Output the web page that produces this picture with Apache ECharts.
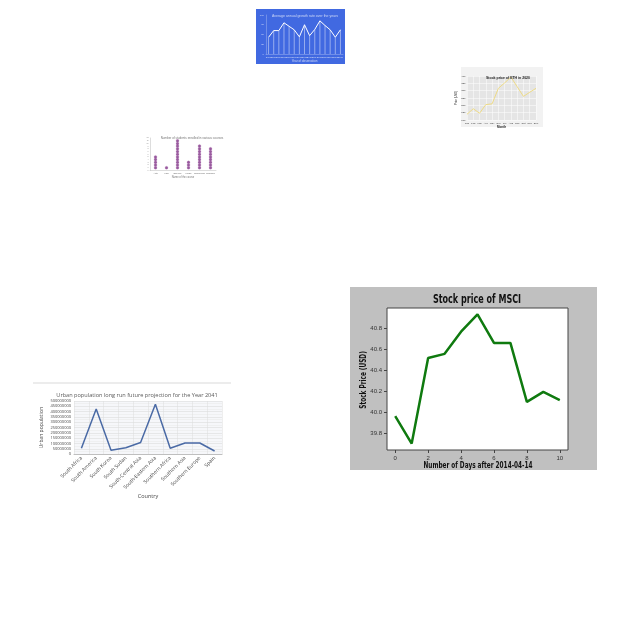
<!DOCTYPE html>
<html><head><meta charset="utf-8">
<script src="https://cdn.jsdelivr.net/npm/echarts@6/dist/echarts.min.js"></script>
<style>html,body{margin:0;padding:0;background:#fff}#c{width:640px;height:640px}</style>
</head><body><div id="c"></div>
<script>
// ---- Chart A (blue line) ----
const blueCats = ['2005','2006','2007','2008','2009','2010','2011','2012','2013','2014','2015','2016','2017','2018','2019'];
const blueVals = [43,60,60,80,71,62,44,75,47,63,85,73,62,43,62];
// ---- Chart B (ETH price) ----
const ethMonths = ['Jan','Feb','Mar','Apr','May','Jun','Jul','Aug','Sep','Oct','Nov','Dec'];
const ethVals = [139,177,146,205,210,316,353,393,327,261,289,316];
// ---- Chart C (dot chart) ----
const dotCats = ['Arts','Law','Science','Music','Commerce','Medicine'];
const dotCounts = [5,1,11,3,9,8];
// ---- Chart D (urban population) ----
const urbanCats = ['South Africa','South America','South Korea','South Sudan','South-Central Asia','South-Eastern Asia','Southern Africa','Southern Asia','Southern Europe','Spain'];
const urbanVals = [56000000,425000000,37000000,62000000,110000000,470000000,56000000,106000000,106000000,31000000];
// ---- Chart E (MSCI) ----
const msciDays = [0,1,2,3,4,5,6,7,8,9,10];
const msciPrice = [39.965,39.704,40.517,40.557,40.768,40.932,40.661,40.661,40.100,40.195,40.117];
const msciXTicks = [0,2,4,6,8,10];
const msciYTicks = [39.8,40.0,40.2,40.4,40.6,40.8];

const dotData = [];
dotCounts.forEach((n,i)=>{for(let k=1;k<=n;k++) dotData.push([i,k]);});

const chart = echarts.init(document.getElementById('c'), null, {renderer:'canvas'});
chart.setOption({
  animation:false,
  backgroundColor:'#fff',
  graphic:[
    {type:'rect', shape:{x:256,y:9,width:89,height:55}, style:{fill:'#4169e1'}, z:-10},
    {type:'rect', shape:{x:461,y:67,width:82,height:60}, style:{fill:'#f2f2f2'}, z:-10},
    {type:'rect', shape:{x:350,y:287,width:247,height:183}, style:{fill:'#c0c0c0'}, z:-10},
    {type:'line', shape:{x1:33,y1:383,x2:231,y2:383}, style:{stroke:'#d9d9d9',lineWidth:1}, z:-10},
    {type:'text', x:477, y:300, scaleX:0.7, z:10,
      style:{text:'Stock price of MSCI', font:'bold 11.5px "DejaVu Sans"', fill:'#111', align:'center', verticalAlign:'middle'}},
    {type:'text', x:478, y:465.5, scaleX:0.68, z:10,
      style:{text:'Number of Days after 2014-04-14', font:'bold 8.5px "DejaVu Sans"', fill:'#111', align:'center', verticalAlign:'middle'}},
    {type:'text', x:364, y:380, rotation:Math.PI/2, scaleX:0.68, z:10,
      style:{text:'Stock Price (USD)', font:'bold 8.5px "DejaVu Sans"', fill:'#111', align:'center', verticalAlign:'middle'}}
  ],
  title:[
    {text:'Average annual growth rate over the years', left:300, top:9.5, textAlign:'center',
      textStyle:{fontSize:3.5,color:'rgba(255,255,255,0.7)',fontWeight:'normal'}},
    {text:'Stock price of ETH in 2020', left:503, top:71, textAlign:'center',
      textStyle:{fontSize:3.5,color:'#222',fontWeight:'bold'}},
    {text:'Number of students enrolled in various courses', left:187, top:131.5, textAlign:'center',
      textStyle:{fontSize:3,color:'#777',fontWeight:'normal'}},
    {text:'Urban population long run future projection for the Year 2041', left:132, top:387, textAlign:'center',
      textStyle:{fontSize:5.6,color:'#595959',fontWeight:'normal',fontFamily:'Open Sans'}}
  ],
  grid:[
    {left:266, right:297, top:15, height:39, containLabel:false},
    {left:467, right:104, top:76, height:44, show:true, backgroundColor:'#e5e5e5', borderWidth:0},
    {left:150, right:424, top:138, height:32.4},
    {left:74, right:418, top:401, height:53.3, show:true, backgroundColor:'#f6f7fa', borderWidth:0},
    {left:387, right:72, top:308, height:142, show:true, backgroundColor:'#fff', borderColor:'#444', borderWidth:1}
  ],
  xAxis:[
    {gridIndex:0, type:'category', data:blueCats, boundaryGap:true,
      axisLine:{lineStyle:{color:'rgba(255,255,255,0.5)',width:0.5}}, axisTick:{show:false},
      axisLabel:{fontSize:2.5,color:'rgba(255,255,255,0.7)',margin:2,interval:0},
      name:'Year of observation', nameLocation:'middle', nameGap:6,
      nameTextStyle:{fontSize:3,color:'rgba(255,255,255,0.7)'}},
    {gridIndex:1, type:'category', data:ethMonths, boundaryGap:false,
      axisLine:{show:false}, axisTick:{show:false},
      splitLine:{show:true,lineStyle:{color:'#fff',width:0.5}},
      axisLabel:{fontSize:2.5,color:'#333',margin:1.5,interval:0},
      name:'Month', nameLocation:'middle', nameGap:5, nameTextStyle:{fontSize:3,color:'#222',fontWeight:'bold'}},
    {gridIndex:2, type:'category', data:dotCats, boundaryGap:true,
      axisLine:{lineStyle:{color:'#bbb',width:0.5}}, axisTick:{show:false},
      axisLabel:{fontSize:2.3,color:'#666',margin:1.5,interval:0},
      name:'Name of the course', nameLocation:'middle', nameGap:5,
      nameTextStyle:{fontSize:2.6,color:'#777'}},
    {gridIndex:3, type:'category', data:urbanCats, boundaryGap:true,
      axisLine:{lineStyle:{color:'#bfbfbf',width:1}}, axisTick:{show:false},
      splitLine:{show:true,lineStyle:{color:'#dcdcdc',width:0.5}},
      axisLabel:{fontSize:5,color:'#444',rotate:45,margin:3,interval:0,fontFamily:'Open Sans'},
      name:'Country', nameLocation:'middle', nameGap:37,
      nameTextStyle:{fontSize:5.5,color:'#444',fontFamily:'Open Sans'}},
    {gridIndex:4, type:'value', min:-0.5, max:10.5,
      axisLine:{show:false,onZero:false}, splitLine:{show:false},
      axisTick:{show:true,length:3,lineStyle:{color:'#444'},customValues:msciXTicks},
      axisLabel:{fontSize:6,color:'#333',margin:5,customValues:msciXTicks}}
  ],
  yAxis:[
    {gridIndex:0, type:'value', min:0, max:100, interval:25,
      axisLine:{show:true,lineStyle:{color:'rgba(255,255,255,0.5)',width:0.5}}, axisTick:{show:false},
      splitLine:{show:false}, axisLabel:{fontSize:2.5,color:'rgba(255,255,255,0.7)',margin:2},
      name:'Growth rate', nameLocation:'middle', nameGap:5, nameTextStyle:{fontSize:2.6,color:'rgba(255,255,255,0.7)'}},
    {gridIndex:1, type:'value', min:100, max:400, interval:50,
      axisLine:{show:false}, axisTick:{show:false},
      splitLine:{show:true,lineStyle:{color:'#fff',width:0.5}},
      axisLabel:{fontSize:2.5,color:'#333',margin:1.5},
      name:'Price (USD)', nameLocation:'middle', nameGap:5, nameTextStyle:{fontSize:2.6,color:'#222'}},
    {gridIndex:2, type:'value', min:0, max:12, interval:1,
      axisLine:{show:true,lineStyle:{color:'#bbb',width:0.5}}, axisTick:{show:false},
      splitLine:{show:false}, axisLabel:{fontSize:1.8,color:'#888',margin:1.5}},
    {gridIndex:3, type:'value', min:0, max:500000000, interval:50000000,
      axisLine:{show:false}, axisTick:{show:false},
      splitLine:{show:true,lineStyle:{color:'#d6d6d6',width:0.5}},
      minorTick:{show:false,splitNumber:2},
      minorSplitLine:{show:true,lineStyle:{color:'#e8e8e8',width:0.5}},
      axisLabel:{fontSize:4,color:'#444',margin:3,fontFamily:'Open Sans',formatter:v=>String(v)},
      name:'Urban population', nameLocation:'middle', nameGap:30,
      nameTextStyle:{fontSize:5,color:'#444',fontFamily:'Open Sans'}},
    {gridIndex:4, type:'value', min:39.643, max:40.993,
      axisLine:{show:false,onZero:false}, splitLine:{show:false},
      axisTick:{show:true,length:3,lineStyle:{color:'#444'},customValues:msciYTicks},
      axisLabel:{fontSize:6,color:'#333',margin:5,customValues:msciYTicks,formatter:v=>v.toFixed(1)}}
  ],
  series:[
    {type:'bar', xAxisIndex:0, yAxisIndex:0, data:blueVals, barWidth:0.5,
      itemStyle:{color:'rgba(255,255,255,0.45)'}, silent:true},
    {type:'line', xAxisIndex:0, yAxisIndex:0, data:blueVals, symbol:'none',
      lineStyle:{color:'#fff',width:1}},
    {type:'line', xAxisIndex:1, yAxisIndex:1, data:ethVals, symbol:'none',
      lineStyle:{color:'#eed97a',width:0.9}},
    {type:'scatter', xAxisIndex:2, yAxisIndex:2, data:dotData, symbolSize:3,
      itemStyle:{color:'#7e2f86',borderColor:'#b98abd',borderWidth:0.3}},
    {type:'line', xAxisIndex:3, yAxisIndex:3, data:urbanVals, symbol:'none',
      lineStyle:{color:'#4a6aa5',width:1.5}},
    {type:'line', xAxisIndex:4, yAxisIndex:4, data:msciDays.map((d,i)=>[d,msciPrice[i]]), symbol:'none',
      lineStyle:{color:'#0f7a0f',width:2.5}}
  ]
});
</script></body></html>
